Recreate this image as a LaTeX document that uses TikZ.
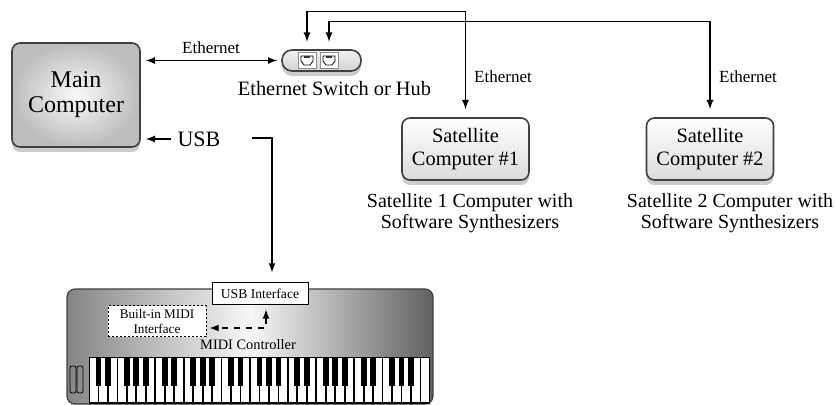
\documentclass[tikz,border=0pt]{standalone}
\usepackage{fontspec}
\setmainfont{Liberation Serif}
\usepackage{tikz}
\usetikzlibrary{arrows,shadows}
\definecolor{edgegray}{gray}{0.25}
\newcommand{\fsz}[2]{\rmfamily\fontsize{#1}{#2}\selectfont}

\tikzset{
  pcbox/.style={draw=edgegray,line width=0.8pt,rounded corners=4pt,align=center,
    drop shadow={shadow xshift=0pt,shadow yshift=-2.5pt,opacity=0.4}},
  mainbox/.style={pcbox,inner color=black!2,outer color=black!26,
    minimum width=64pt,minimum height=52pt,font=\fsz{12}{12.5}},
  satbox/.style={pcbox,top color=white,bottom color=black!14,
    minimum width=63.5pt,minimum height=31pt,font=\fsz{10.2}{11.5}},
  hubbox/.style={pcbox,rounded corners=5pt,top color=black!5,bottom color=black!18,
    minimum width=39.5pt,minimum height=10.5pt},
  portbox/.style={draw=black!45,line width=0.3pt,fill=white,minimum width=9pt,minimum height=8pt},
  caption/.style={align=center,font=\fsz{10}{10.5}},
  netlabel/.style={font=\fsz{8.5}{10}},
  wire/.style={line width=0.6pt},
  kbdbox/.style={draw=black,line width=0.5pt,fill=white,align=center,inner sep=1.5pt},
}

\begin{document}
\begin{tikzpicture}[x=0.5pt,y=-0.5pt,>=latex,every node/.style={inner sep=0pt}]
  \useasboundingbox (0,0) rectangle (835,405);

  % computers and the hub
  \node[mainbox] (main) at (76,95) {Main\\Computer};
  \node[hubbox]  (hub)  at (321.5,60.5) {};
  \node[portbox] (p1)   at (307,60) {};
  \node[portbox] (p2)   at (329,60) {};
  \foreach \p in {p1,p2}{
    \draw[line width=0.4pt,shift={(\p.center)}]
      (-6,-4) -- (6,-4) -- (6,1) -- (3,5) -- (-3,5) -- (-6,1) -- cycle;
    \fill[black!80,shift={(\p.center)}] (-3,-4) rectangle (3,-1.5);
  }
  \node[font=\fsz{10.2}{12}] (hubtxt) at (334.5,89) {Ethernet Switch or Hub};

  \node[satbox] (sat1) at (465.5,149) {Satellite\\Computer \#1};
  \node[satbox] (sat2) at (710,149)   {Satellite\\Computer \#2};
  \node[caption] (cap1) at (470,213) {Satellite 1 Computer with\\Software Synthesizers};
  \node[caption] (cap2) at (730,213) {Satellite 2 Computer with\\Software Synthesizers};

  % ethernet wiring
  \coordinate (bus1) at (0,11.5);
  \coordinate (bus2) at (0,21.5);
  \draw[wire,<->,shorten <=2.5pt,shorten >=2pt] (hub.west -| main.east) -- (hub.west)
    node[midway,above=3pt,netlabel] (eth0) {Ethernet};
  \draw[wire,<->,shorten <=5pt,shorten >=4pt] (p1.north) -- (p1.north |- bus1) -| (sat1.north);
  \draw[wire,<->,shorten <=5pt,shorten >=4pt] (p2.north) -- (p2.north |- bus2) -| (sat2.north);
  \node[netlabel] (eth1) at (503,77) {Ethernet};
  \node[netlabel] (eth2) at (748,77) {Ethernet};

  % keyboard body and keys
  \draw[draw=edgegray,line width=0.6pt,rounded corners=4pt,left color=black!48,
    right color=black!62,middle color=black!3,
    drop shadow={shadow xshift=0pt,shadow yshift=-1pt,opacity=0.3}]
    (67,289) rectangle (433,404);
  \fill[black] (89,357) rectangle (430,404);
  \foreach \k in {0,...,35}
    \fill[white] ({89.9+\k*9.47},358.5) rectangle ({89+(\k+1)*9.47-0.9},402);
  \foreach \o in {0,...,4}
    \foreach \i in {0,1,3,4,5}{
      \pgfmathsetmacro\bx{89+(7*\o+\i+1)*9.47}
      \fill[black] (\bx-2.9,357) rectangle (\bx+2.9,386);
    }
  \draw[line width=0.4pt,rounded corners=1pt] (70,366) rectangle (76,393);
  \draw[line width=0.4pt,rounded corners=1pt] (77,366) rectangle (83,393);

  \node[kbdbox,minimum width=48pt,minimum height=11pt,font=\fsz{6.8}{8}] (usbif) at (260,294) {USB Interface};
  \node[kbdbox,dashed,dash pattern=on 1.2pt off 0.8pt,minimum width=49pt,minimum height=15.5pt,
    font=\fsz{6.6}{7.6}] (midi) at (157,321.5) {Built-in MIDI\\Interface};
  \node[font=\fsz{7.2}{9}] (kbd) at (248,345) {MIDI Controller};
  \draw[wire,dashed,<->,shorten <=2pt,shorten >=1.5pt]
    ([xshift=3pt]usbif.south) |- ([yshift=-3.25pt]midi.east);

  % usb wiring
  \node[font=\fsz{11}{13}] (usb) at (199,139) {USB};
  \coordinate (usbout) at (252,138);
  \draw[wire,->,shorten <=3pt,shorten >=2.5pt] (usb.west) -- (usb.west -| main.east);
  \draw[wire,->,shorten >=5pt] (usbout) -| ([xshift=6pt]usbif.north);
\end{tikzpicture}
\end{document}
